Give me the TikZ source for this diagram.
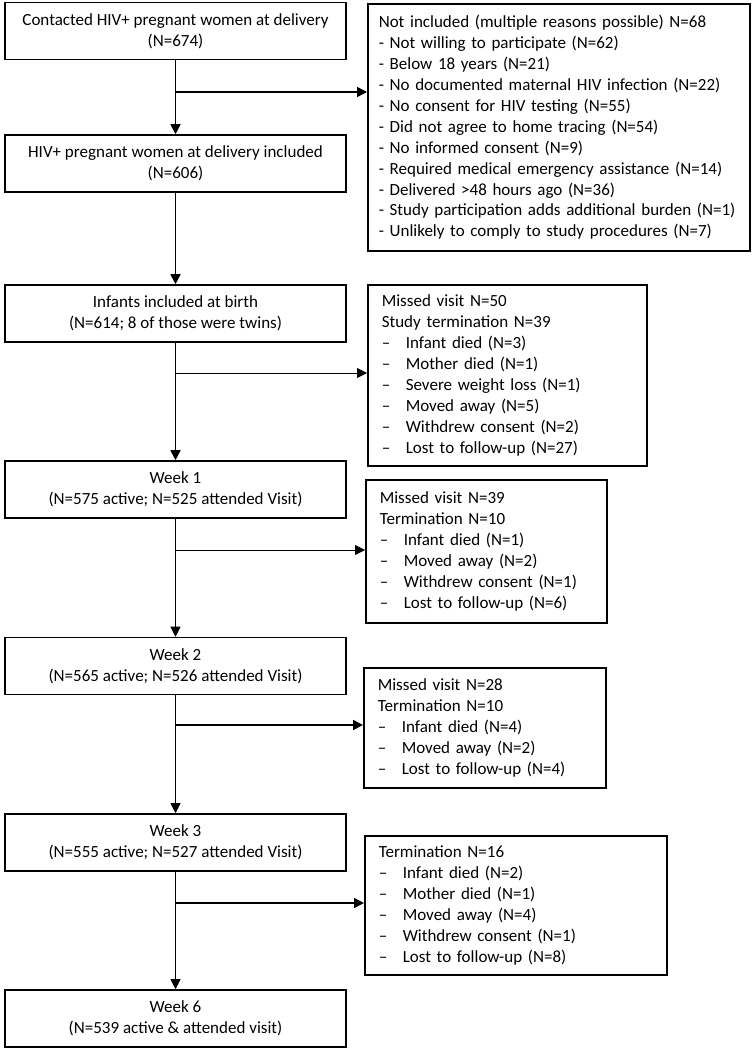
\documentclass[tikz,border=0pt]{standalone}
\usepackage{fontspec}
\setmainfont{Carlito}
\usetikzlibrary{arrows.meta}
\newcommand{\itm}{\makebox[0.6cm][l]{--}}
\begin{document}
\begin{tikzpicture}[x=0.025cm,y=0.025cm,font=\fontsize{12.1}{14.9}\selectfont]
\tikzstyle{every node}+=[inner sep=0pt]
\tikzstyle{stage}=[draw,line width=1.1pt,minimum width=8.525cm,minimum height=1.425cm,align=center]
\tikzstyle{outbox}=[draw,line width=1.1pt,anchor=north west,inner xsep=0.35cm,align=left]
\tikzstyle{thickarrow}=[line width=1.1pt,-{Triangle[length=0.25cm,width=0.25cm]}]
\tikzstyle{thinarrow}=[line width=0.6pt,-{Triangle[length=0.25cm,width=0.25cm]}]
\useasboundingbox (0,0) rectangle (752,-1050);
\node [stage] (contacted) at (175.5,-31) {Contacted HIV+ pregnant women at delivery\\(N=674)};
\node [stage] (included) at (175.5,-163.5) {HIV+ pregnant women at delivery included\\(N=606)};
\node [stage] (infants) at (175.5,-313.5) {Infants included at birth\\(N=614; 8 of those were twins)};
\node [stage] (week1) at (175.5,-489.5) {Week 1\\(N=575 active; N=525 attended Visit)};
\node [stage] (week2) at (175.5,-666) {Week 2\\(N=565 active; N=526 attended Visit)};
\node [stage] (week3) at (175.5,-842.5) {Week 3\\(N=555 active; N=527 attended Visit)};
\node [stage] (week6) at (175.5,-1018.5) {Week 6\\(N=539 active \& attended visit)};
\node [outbox,inner xsep=0.275cm,text width=9cm,minimum height=6.175cm] (notincl) at (367,-3) {Not included (multiple reasons possible) N=68\\
- Not willing to participate (N=62)\\
- Below 18 years (N=21)\\
- No documented maternal HIV infection (N=22)\\
- No consent for HIV testing (N=55)\\
- Did not agree to home tracing (N=54)\\
- No informed consent (N=9)\\
- Required medical emergency assistance (N=14)\\
- Delivered >48 hours ago (N=36)\\
- Study participation adds additional burden (N=1)\\
- Unlikely to comply to study procedures (N=7)};
\node [outbox,text width=6.275cm,minimum height=4.525cm] (loss0) at (367,-284) {Missed visit N=50\\
Study termination N=39\\
\itm Infant died (N=3)\\
\itm Mother died (N=1)\\
\itm Severe weight loss (N=1)\\
\itm Moved away (N=5)\\
\itm Withdrew consent (N=2)\\
\itm Lost to follow-up (N=27)};
\node [outbox,text width=5.325cm,minimum height=3.575cm] (loss1) at (365,-479) {Missed visit N=39\\
Termination N=10\\
\itm Infant died (N=1)\\
\itm Moved away (N=2)\\
\itm Withdrew consent (N=1)\\
\itm Lost to follow-up (N=6)};
\node [outbox,text width=5.35cm,minimum height=3cm] (loss2) at (363,-667) {Missed visit N=28\\
Termination N=10\\
\itm Infant died (N=4)\\
\itm Moved away (N=2)\\
\itm Lost to follow-up (N=4)};
\node [outbox,text width=6.85cm,minimum height=3.475cm] (loss3) at (364,-835) {Termination N=16\\
\itm Infant died (N=2)\\
\itm Mother died (N=1)\\
\itm Moved away (N=4)\\
\itm Withdrew consent (N=1)\\
\itm Lost to follow-up (N=8)};
\coordinate (split0) at (175.5,-92);
\coordinate (split1) at (175.5,-373);
\coordinate (split2) at (175.5,-550);
\coordinate (split3) at (175.5,-725);
\coordinate (split4) at (175.5,-903);
\draw [thickarrow] (contacted) -- (included);
\draw [thickarrow] (split0) -- (split0 -| notincl.west);
\draw [thickarrow] (included) -- (infants);
\draw [thickarrow] (infants) -- (week1);
\draw [thinarrow] (split1) -- (split1 -| loss0.west);
\draw [thinarrow] (week1) -- (week2);
\draw [thinarrow] (split2) -- (split2 -| loss1.west);
\draw [thinarrow] (week2) -- (week3);
\draw [thickarrow] (split3) -- (split3 -| loss2.west);
\draw [thinarrow] (week3) -- (week6);
\draw [thickarrow] (split4) -- (split4 -| loss3.west);
\end{tikzpicture}
\end{document}
